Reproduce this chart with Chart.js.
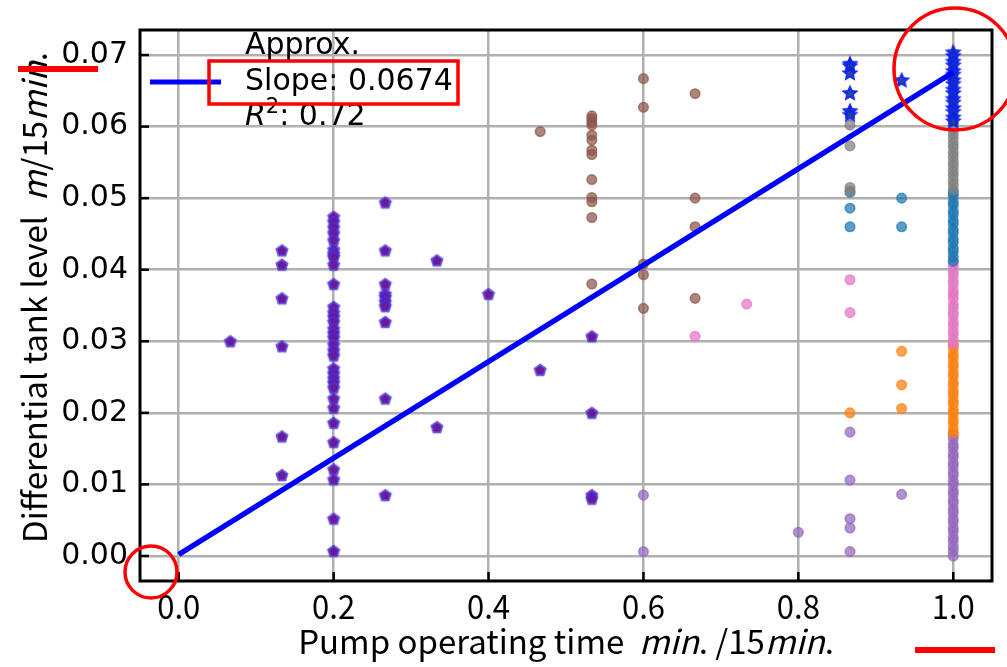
<!DOCTYPE html>
<html>
<head>
<meta charset="utf-8">
<script src="https://cdn.jsdelivr.net/npm/chart.js@4"></script>
<style>
  body { margin: 0; background: #fff; }
  #wrap { width: 1007px; height: 667px; }
</style>
</head>
<body>
<div id="wrap"><canvas id="tankChart" width="1007" height="667"></canvas></div>
<script>
// each entry: [pump minutes out of 15, tank level differences]
const pentagonRuns = [
  [1, [0.0300]],
  [2, [0.0427, 0.0407, 0.0360, 0.0293, 0.0167, 0.0113]],
  [3, [0.0474, 0.0467, 0.0459, 0.0451, 0.0441, 0.0428, 0.0422, 0.0418, 0.0407, 0.0380,
       0.0348, 0.0340, 0.0334, 0.0327, 0.0317, 0.0311, 0.0305, 0.0295, 0.0287, 0.0280,
       0.0262, 0.0255, 0.0248, 0.0242, 0.0235, 0.0220, 0.0207, 0.0186, 0.0159, 0.0121,
       0.0107, 0.0052, 0.0007]],
  [4, [0.0494, 0.0427, 0.0380, 0.0366, 0.0362, 0.0355, 0.0349, 0.0327, 0.0220, 0.0085]],
  [5, [0.0413, 0.0180]],
  [6, [0.0366]],
  [7, [0.0260]],
  [8, [0.0307, 0.0200, 0.0085, 0.0080]]
];
const brownRuns = [
  [7, [0.0593]],
  [8, [0.0615, 0.0611, 0.0606, 0.0602, 0.0588, 0.0581, 0.0567, 0.0561, 0.0526, 0.0501, 0.0495, 0.0473, 0.0380]],
  [9, [0.0667, 0.0627, 0.0408, 0.0393, 0.0346]],
  [10, [0.0646, 0.0500, 0.0460, 0.0360]]
];
const pinkRuns = [
  [10, [0.0307]],
  [11, [0.0352]],
  [13, [0.0386, 0.0340]],
  [15, [0.0410, 0.0405, 0.0397, 0.0392, 0.0384, 0.0379, 0.0371, 0.0366, 0.0360, 0.0352, 0.0347,
        0.0340, 0.0335, 0.0327, 0.0322, 0.0314, 0.0309, 0.0302, 0.0296]]
];
const purpleRuns = [
  [9, [0.0085, 0.0006]],
  [12, [0.0033]],
  [13, [0.0173, 0.0106, 0.0052, 0.0039, 0.0006]],
  [14, [0.0086]],
  [15, [0.0170, 0.0164, 0.0156, 0.0151, 0.0143, 0.0138, 0.0130, 0.0125, 0.0117, 0.0112, 0.0104,
        0.0099, 0.0091, 0.0086, 0.0078, 0.0073, 0.0065, 0.0060, 0.0052, 0.0047, 0.0039, 0.0034,
        0.0026, 0.0021, 0.0013, 0.0007, 0.0000]]
];
const orangeRuns = [
  [13, [0.0200]],
  [14, [0.0286, 0.0239, 0.0206]],
  [15, [0.0295, 0.0290, 0.0282, 0.0277, 0.0269, 0.0264, 0.0256, 0.0251, 0.0243, 0.0238, 0.0230,
        0.0225, 0.0217, 0.0212, 0.0204, 0.0199, 0.0191, 0.0186, 0.0178, 0.0172]]
];
const blueRuns = [
  [13, [0.0508, 0.0486, 0.0460]],
  [14, [0.0500, 0.0460]],
  [15, [0.0508, 0.0503, 0.0495, 0.0490, 0.0482, 0.0477, 0.0469, 0.0464, 0.0456, 0.0451, 0.0443,
        0.0438, 0.0430, 0.0425, 0.0418, 0.0412]]
];
const grayRuns = [
  [13, [0.0602, 0.0573, 0.0515, 0.0510]],
  [15, [0.0603, 0.0597, 0.0590, 0.0584, 0.0577, 0.0571, 0.0564, 0.0558, 0.0551, 0.0545, 0.0538,
        0.0532, 0.0525, 0.0519, 0.0512]]
];
const starRuns = [
  [13, [0.0688, 0.0685, 0.0675, 0.0647, 0.0622, 0.0617]],
  [14, [0.0665]],
  [15, [0.0704, 0.0699, 0.0691, 0.0686, 0.0678, 0.0673, 0.0665, 0.0660, 0.0652, 0.0647, 0.0639,
        0.0634, 0.0626, 0.0621, 0.0613, 0.0608]]
];
const fitX = [0, 1];
const fitY = [0.0002, 0.0676];
const xTicks = [0, 0.2, 0.4, 0.6, 0.8, 1.0];
const yTicks = [0, 0.01, 0.02, 0.03, 0.04, 0.05, 0.06, 0.07];

const toPoints = runs => runs.flatMap(([m, ys]) => ys.map(y => ({ x: m / 15, y })));

function polygon(ctx, cx, cy, r, n, inner) {
  ctx.beginPath();
  const k = inner ? n * 2 : n;
  for (let i = 0; i < k; i++) {
    const rr = inner && i % 2 ? inner : r;
    const a = -Math.PI / 2 + i * Math.PI * 2 / k;
    const px = cx + rr * Math.cos(a), py = cy + rr * Math.sin(a);
    i ? ctx.lineTo(px, py) : ctx.moveTo(px, py);
  }
  ctx.closePath();
}

function pentagonMarker() {
  const c = document.createElement('canvas');
  c.width = c.height = 16;
  const g = c.getContext('2d');
  g.fillStyle = 'rgba(70,50,230,0.8)';
  polygon(g, 8, 8.5, 7, 5);
  g.fill();
  g.fillStyle = 'rgba(105,25,150,0.95)';
  polygon(g, 8, 8.5, 5, 5);
  g.fill();
  return c;
}

function starMarker() {
  const c = document.createElement('canvas');
  c.width = c.height = 20;
  const g = c.getContext('2d');
  g.fillStyle = 'rgba(15,35,230,0.95)';
  polygon(g, 10, 10.5, 9, 5, 4.2);
  g.fill();
  g.fillStyle = 'rgba(40,100,90,0.55)';
  g.beginPath();
  g.arc(10, 10.5, 2.5, 0, Math.PI * 2);
  g.fill();
  return c;
}

function dots(label, runs, rgb) {
  return {
    label,
    data: toPoints(runs),
    pointStyle: 'circle',
    pointRadius: 4.8,
    borderWidth: 1.5,
    backgroundColor: 'rgba(' + rgb + ',0.72)',
    borderColor: 'rgba(' + rgb + ',0.72)'
  };
}

// mixed upright / italic text runs
function textRuns(ctx, runs, size, family, x, y, align) {
  const fontOf = r => (r.it ? 'italic ' : '') + (r.sup ? size * 0.7 : size) + 'px ' + family;
  let total = 0;
  runs.forEach(r => { ctx.font = fontOf(r); total += ctx.measureText(r.t).width; });
  let cx = align === 'center' ? x - total / 2 : x;
  ctx.textAlign = 'left';
  ctx.textBaseline = 'middle';
  runs.forEach(r => {
    ctx.font = fontOf(r);
    ctx.fillText(r.t, cx, r.sup ? y - size * 0.32 : y);
    cx += ctx.measureText(r.t).width;
  });
  return total;
}

const overlay = {
  id: 'overlay',
  afterDraw(chart) {
    const ctx = chart.ctx;
    const a = chart.chartArea;
    const xs = chart.scales.x, ys = chart.scales.y;
    const jp = '"Noto Sans CJK JP", "Noto Sans", sans-serif';
    ctx.save();
    ctx.fillStyle = '#000';
    ctx.strokeStyle = '#000';
    // inward ticks
    ctx.lineWidth = 2.5;
    xTicks.forEach(v => {
      const px = xs.getPixelForValue(v);
      ctx.beginPath(); ctx.moveTo(px, a.bottom); ctx.lineTo(px, a.bottom - 9); ctx.stroke();
    });
    yTicks.forEach(v => {
      const py = ys.getPixelForValue(v);
      ctx.beginPath(); ctx.moveTo(a.left, py); ctx.lineTo(a.left + 9, py); ctx.stroke();
    });
    // frame
    ctx.lineWidth = 3;
    ctx.strokeRect(a.left, a.top, a.right - a.left, a.bottom - a.top);

    // x tick labels
    ctx.font = '33px ' + jp;
    ctx.textAlign = 'center';
    ctx.textBaseline = 'middle';
    xTicks.forEach(v => {
      ctx.save();
      ctx.translate(xs.getPixelForValue(v), 606);
      ctx.scale(0.94, 1);
      ctx.fillText(v.toFixed(1), 0, 0);
      ctx.restore();
    });

    // x axis title
    textRuns(ctx, [
      { t: 'Pump operating time  ' }, { t: 'min', it: true }, { t: '. /15' },
      { t: 'min', it: true }, { t: '.' }
    ], 33, jp, (a.left + a.right) / 2, 641, 'center');

    // y axis title
    ctx.save();
    ctx.translate(34, (a.top + a.bottom) / 2 - 8);
    ctx.rotate(-Math.PI / 2);
    textRuns(ctx, [
      { t: 'Differential tank level  ' }, { t: 'm', it: true }, { t: '/15' },
      { t: 'min', it: true }, { t: '.' }
    ], 33, jp, 0, 0, 'center');
    ctx.restore();

    // legend
    ctx.strokeStyle = '#0000ff';
    ctx.lineWidth = 5;
    ctx.beginPath(); ctx.moveTo(150, 82); ctx.lineTo(221, 82); ctx.stroke();
    const lf = '"DejaVu Sans", sans-serif';
    textRuns(ctx, [{ t: 'Approx.' }], 30, lf, 245, 46);
    textRuns(ctx, [{ t: 'Slope: 0.0674' }], 30, lf, 245, 82);
    textRuns(ctx, [{ t: 'R', it: true }, { t: '2', sup: true }, { t: ': 0.72' }], 30, lf, 245, 117);

    // red markup
    ctx.strokeStyle = '#ff0000';
    ctx.lineWidth = 3.5;
    ctx.strokeRect(209, 61, 249, 43);
    ctx.beginPath(); ctx.arc(955, 69, 61, 0, Math.PI * 2); ctx.stroke();
    ctx.beginPath(); ctx.arc(151, 572, 26, 0, Math.PI * 2); ctx.stroke();
    ctx.lineWidth = 6;
    ctx.beginPath(); ctx.moveTo(18, 69); ctx.lineTo(98, 69); ctx.stroke();
    ctx.beginPath(); ctx.moveTo(915, 650); ctx.lineTo(995, 650); ctx.stroke();
    ctx.restore();
  }
};

new Chart(document.getElementById('tankChart').getContext('2d'), {
  type: 'scatter',
  data: {
    datasets: [
      {
        label: 'Approx.',
        type: 'line',
        data: fitX.map((x, i) => ({ x, y: fitY[i] })),
        borderColor: '#0000ff',
        borderWidth: 5.5,
        pointRadius: 0,
        fill: false
      },
      { label: 'stars', data: toPoints(starRuns), pointStyle: starMarker(), pointRadius: 9 },
      dots('gray', grayRuns, '127,127,127'),
      dots('blue', blueRuns, '31,119,180'),
      dots('pink', pinkRuns, '227,119,194'),
      dots('orange', orangeRuns, '255,127,14'),
      dots('purple', purpleRuns, '148,103,189'),
      dots('brown', brownRuns, '140,86,75'),
      { label: 'pentagons', data: toPoints(pentagonRuns), pointStyle: pentagonMarker(), pointRadius: 7 }
    ]
  },
  options: {
    responsive: false,
    animation: false,
    devicePixelRatio: 1,
    layout: { padding: { top: 16, right: 15, left: 0, bottom: 0 } },
    plugins: { legend: { display: false }, tooltip: { enabled: false } },
    scales: {
      x: {
        type: 'linear',
        min: -0.05,
        max: 1.05,
        afterBuildTicks: s => { s.ticks = xTicks.map(value => ({ value })); },
        afterFit: s => { s.height = 86; },
        grid: { color: '#b0b0b0', lineWidth: 2.5, drawTicks: false },
        border: { display: false },
        ticks: { display: false }
      },
      y: {
        min: -0.0035,
        max: 0.0735,
        afterBuildTicks: s => { s.ticks = yTicks.map(value => ({ value })); },
        afterFit: s => { s.width = 140; },
        grid: { color: '#b0b0b0', lineWidth: 2.5, drawTicks: false },
        border: { display: false },
        ticks: {
          padding: 12,
          color: '#000',
          font: { family: 'DejaVu Sans', size: 30 },
          callback: v => v.toFixed(2)
        }
      }
    }
  },
  plugins: [overlay]
});
</script>
</body>
</html>
